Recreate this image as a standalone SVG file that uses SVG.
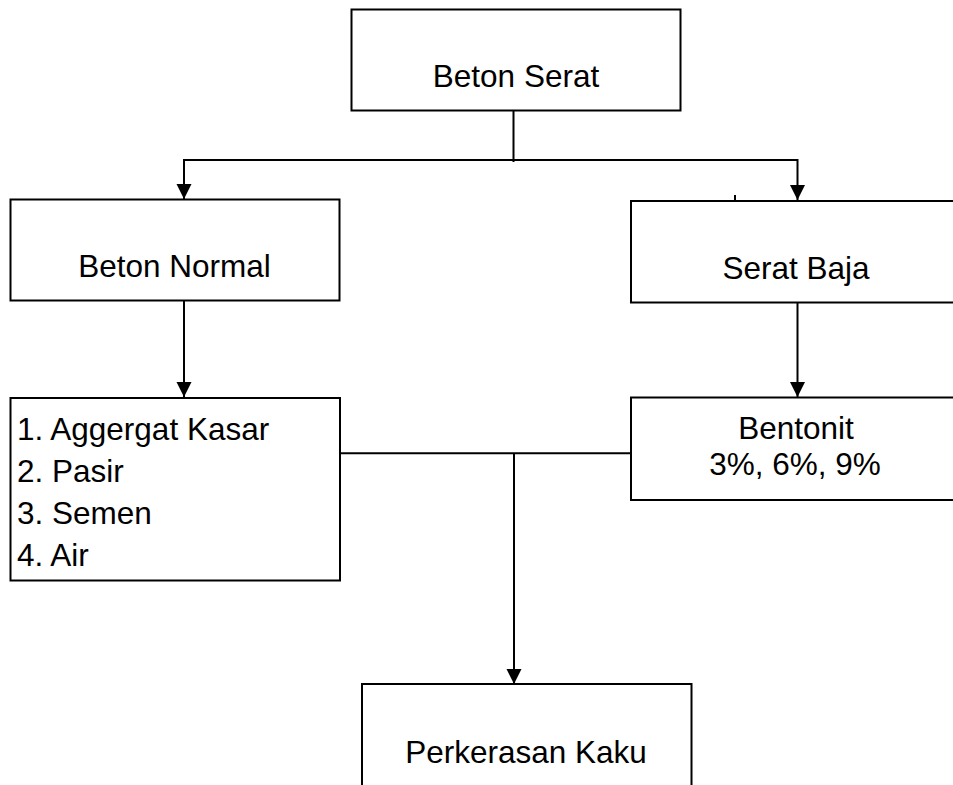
<svg xmlns="http://www.w3.org/2000/svg" width="953" height="785" viewBox="0 0 953 785">
<style>
.box{fill:#fff;stroke:#000;stroke-width:2}
.t{font-family:"Liberation Sans",Arial,sans-serif;font-size:31.5px;fill:#000}
.c{text-anchor:middle}
.ln{fill:none;stroke:#000;stroke-width:2}
</style>
<defs>
<marker id="ah" markerUnits="userSpaceOnUse" markerWidth="16" markerHeight="16" viewBox="0 0 16 16" refX="15" refY="8" orient="auto">
<path d="M0,0.5 L15,8 L0,15.5 Z" fill="#000"/>
</marker>
</defs>
<rect width="953" height="785" fill="#fff"/>
<g id="connectors">
<line class="ln" x1="513.5" y1="111" x2="513.5" y2="162" stroke-width="1.6"/>
<polyline class="ln" points="184,200 184,160 797.5,160 797.5,200" marker-end="url(#ah)"/>
<line class="ln" x1="184" y1="160" x2="184" y2="199" marker-end="url(#ah)"/>
<line class="ln" x1="735" y1="195" x2="735" y2="201" stroke-width="1.5"/>
<line class="ln" x1="184" y1="301" x2="184" y2="397" marker-end="url(#ah)"/>
<line class="ln" x1="797.5" y1="302" x2="797.5" y2="397" marker-end="url(#ah)"/>
<line class="ln" x1="340" y1="453.3" x2="631" y2="453.3"/>
<line class="ln" x1="514" y1="453.3" x2="514" y2="684" marker-end="url(#ah)"/>
</g>
<g id="beton-serat">
<rect class="box" x="351.5" y="9.5" width="329" height="101"/>
<text class="t c" x="516" y="87">Beton Serat</text>
</g>
<g id="beton-normal">
<rect class="box" x="10.5" y="199.5" width="329" height="101"/>
<text class="t c" x="174.5" y="277">Beton Normal</text>
</g>
<g id="serat-baja">
<rect class="box" x="631" y="201" width="340" height="101.5"/>
<text class="t c" x="796" y="278.5">Serat Baja</text>
</g>
<g id="bahan">
<rect class="box" x="10.5" y="398" width="329.5" height="182.5"/>
<text class="t" x="17" y="439.5">1. Aggergat Kasar</text>
<text class="t" x="17" y="481.5">2. Pasir</text>
<text class="t" x="17" y="523.5">3. Semen</text>
<text class="t" x="17" y="565.5">4. Air</text>
</g>
<g id="bentonit">
<rect class="box" x="631" y="397.5" width="340" height="102.5"/>
<text class="t c" x="796" y="438.5">Bentonit</text>
<text class="t c" x="795" y="475">3%, 6%, 9%</text>
</g>
<g id="perkerasan-kaku">
<rect class="box" x="362" y="684" width="329.5" height="120"/>
<text class="t c" x="526" y="763">Perkerasan Kaku</text>
</g>
</svg>
